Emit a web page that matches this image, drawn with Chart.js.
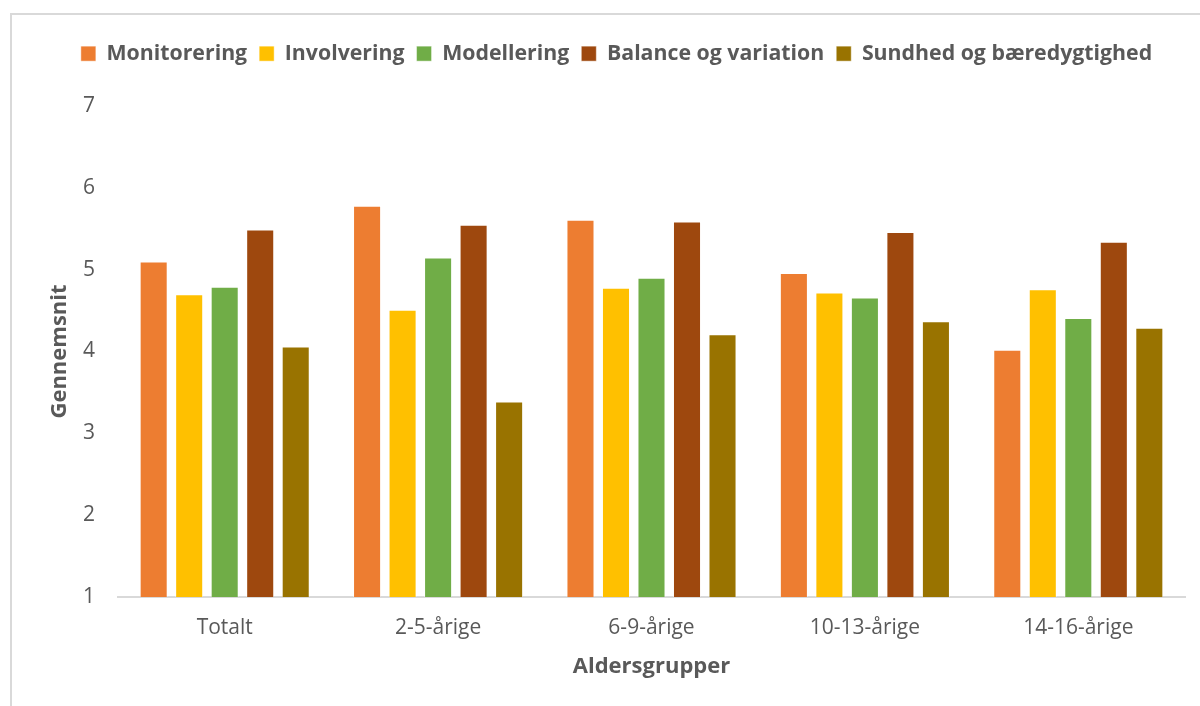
<!DOCTYPE html>
<html lang="da">
<head>
<meta charset="utf-8">
<title>Gennemsnit fordelt på aldersgrupper</title>
<script src="https://cdn.jsdelivr.net/npm/chart.js@4/dist/chart.umd.min.js"></script>
<style>
  html, body { margin: 0; padding: 0; background: #ffffff; }
  #wrap { position: relative; width: 1200px; height: 706px; }
  canvas { display: block; }
</style>
</head>
<body>
<div id="wrap"><canvas id="chart" width="1200" height="706"></canvas></div>
<script>
// Age groups on the x axis
const categories = ['Totalt', '2-5-årige', '6-9-årige', '10-13-årige', '14-16-årige'];

// Average score per dimension for each age group
const monitorering = [5.10, 5.78, 5.61, 4.96, 4.02];
const involvering  = [4.70, 4.51, 4.78, 4.72, 4.76];
const modellering  = [4.79, 5.15, 4.90, 4.66, 4.41];
const balance      = [5.49, 5.55, 5.59, 5.46, 5.34];
const sundhed      = [4.06, 3.39, 4.21, 4.37, 4.29];

const seriesNames = ['Monitorering', 'Involvering', 'Modellering', 'Balance og variation', 'Sundhed og bæredygtighed'];
const seriesValues = [monitorering, involvering, modellering, balance, sundhed];
const seriesColors = ['#ED7D31', '#FFC000', '#70AD47', '#9E480E', '#997300'];

// y axis range and step
const yMin = 1, yMax = 7, yStep = 1;

const textColor = '#595959';
const FONT = '"Open Sans", "Noto Sans", sans-serif';

// light grey frame along the top and left edge of the chart
const framePlugin = {
  id: 'frame',
  beforeDraw(chart) {
    const ctx = chart.ctx;
    ctx.save();
    ctx.strokeStyle = '#d9d9d9';
    ctx.lineWidth = 2;
    ctx.beginPath();
    ctx.moveTo(11, chart.height);
    ctx.lineTo(11, 14);
    ctx.lineTo(chart.width, 14);
    ctx.stroke();
    ctx.restore();
  }
};

// fixed legend block height, and the legend row centred over the whole frame
const legendPlacePlugin = {
  id: 'legendPlace',
  beforeInit(chart) {
    const legend = chart.legend;
    if (!legend) return;
    const origFit = legend.fit.bind(legend);
    legend.fit = function () {
      origFit();
      this.height = 75;
    };
  },
  afterLayout(chart) {
    const legend = chart.legend;
    if (!legend) return;
    legend.left += 24;
    legend.right += 24;
  }
};

new Chart(document.getElementById('chart'), {
  type: 'bar',
  data: {
    labels: categories,
    datasets: seriesNames.map((name, i) => ({
      label: name,
      data: seriesValues[i],
      backgroundColor: seriesColors[i],
      borderColor: 'rgba(255,255,255,0.45)',
      borderWidth: 1,
      categoryPercentage: 0.832,
      barPercentage: 0.79
    }))
  },
  options: {
    responsive: false,
    animation: false,
    layout: { padding: { top: 31, right: 15, bottom: 0, left: 0 } },
    plugins: {
      legend: {
        position: 'top',
        labels: {
          color: textColor,
          font: { family: FONT, size: 21.3, weight: 'bold' },
          boxWidth: 15,
          boxHeight: 15,
          padding: 12
        }
      },
      tooltip: { enabled: false }
    },
    scales: {
      x: {
        grid: { display: false, drawTicks: false },
        border: { display: true, color: '#d9d9d9', width: 2 },
        ticks: {
          color: textColor,
          font: { family: FONT, size: 21 },
          padding: 18,
          maxRotation: 0
        },
        title: {
          display: true,
          text: 'Aldersgrupper',
          color: textColor,
          font: { family: FONT, size: 22, weight: 'bold' },
          padding: { top: 10, bottom: 26 }
        },
        afterFit(scale) { scale.height = 109; }
      },
      y: {
        min: yMin,
        max: yMax,
        grid: { display: false, drawTicks: false },
        border: { display: false },
        ticks: {
          stepSize: yStep,
          color: textColor,
          font: { family: FONT, size: 21 },
          padding: 23
        },
        title: {
          display: true,
          text: 'Gennemsnit',
          color: textColor,
          font: { family: FONT, size: 22, weight: 'bold' },
          padding: { top: 47, bottom: 0 }
        },
        afterFit(scale) { scale.width = 118; }
      }
    }
  },
  plugins: [framePlugin, legendPlacePlugin]
});
</script>
</body>
</html>
